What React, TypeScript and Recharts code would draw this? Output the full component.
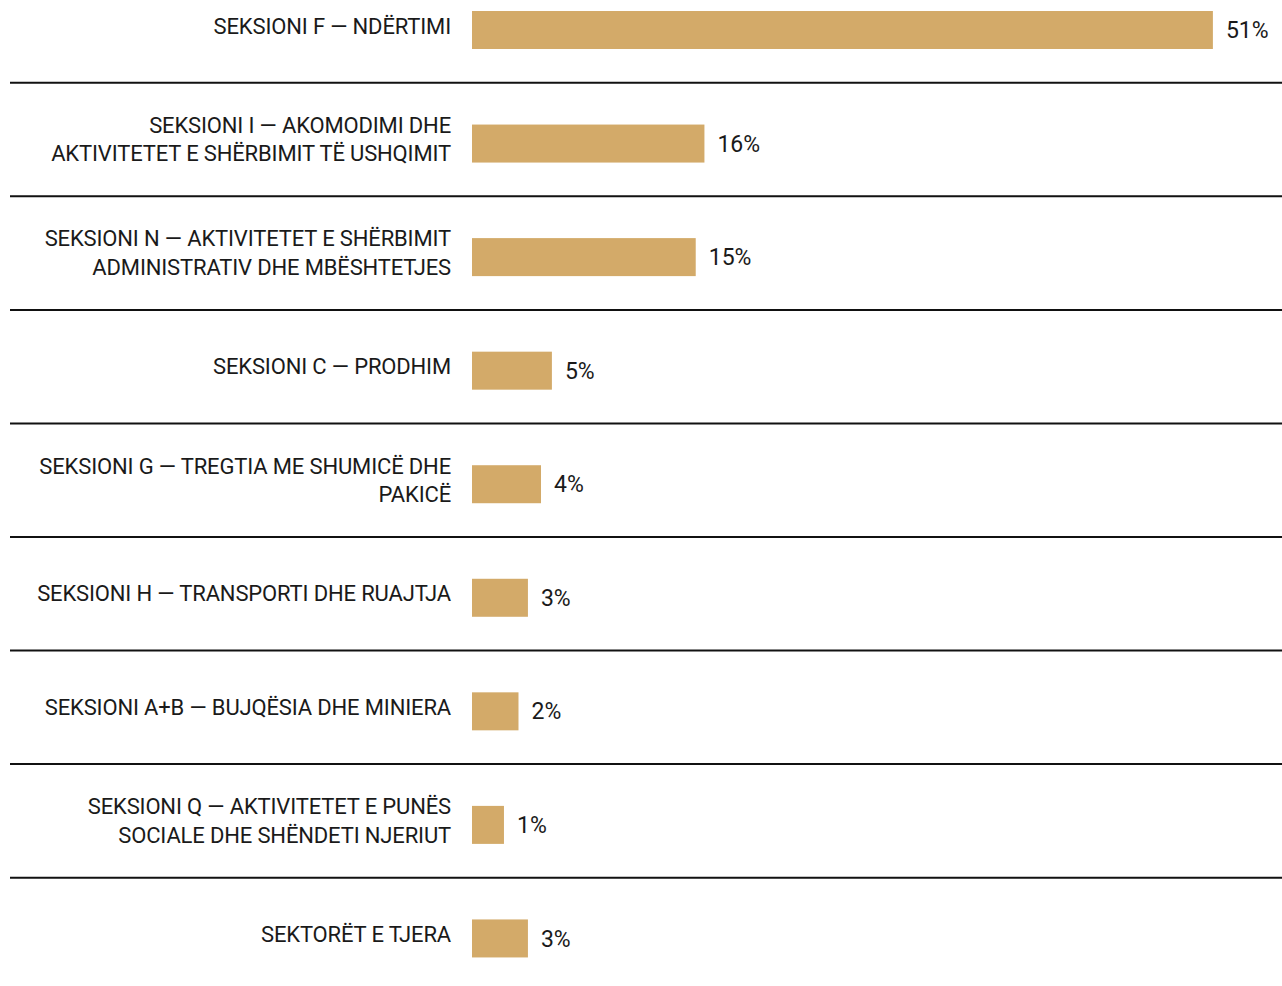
import { Bar, BarChart, LabelList, XAxis, YAxis } from "recharts";

const sectors = [
  "SEKSIONI F — NDËRTIMI",
  "SEKSIONI I — AKOMODIMI DHE\nAKTIVITETET E SHËRBIMIT TË USHQIMIT",
  "SEKSIONI N — AKTIVITETET E SHËRBIMIT\nADMINISTRATIV DHE MBËSHTETJES",
  "SEKSIONI C — PRODHIM",
  "SEKSIONI G — TREGTIA ME SHUMICË DHE\nPAKICË",
  "SEKSIONI H — TRANSPORTI DHE RUAJTJA",
  "SEKSIONI A+B — BUJQËSIA DHE MINIERA",
  "SEKSIONI Q — AKTIVITETET E PUNËS\nSOCIALE DHE SHËNDETI NJERIUT",
  "SEKTORËT E TJERA",
];
// bar lengths as drawn (the printed labels are rounded differently)
const shares = [51, 16, 15.4, 5.5, 4.75, 3.85, 3.2, 2.2, 3.85];
const shareLabels = ["51%", "16%", "15%", "5%", "4%", "3%", "2%", "1%", "3%"];

const data = sectors.map((sector, i) => ({
  sector,
  share: shares[i],
  label: shareLabels[i],
}));

const WIDTH = 1282;
const HEIGHT = 1022;
const AXIS_W = 472;
const BAND = HEIGHT / sectors.length;
const ROW_SHIFT = 4; // labels and rules sit a bit above the bar centre
const LINE_H = 28.5;
const RULE_LEFT = 10;
const FONT = "Roboto, 'Noto Sans', sans-serif";
const INK = "#1a1a1a";

function SectorTick({ x, y, payload }: any) {
  const lines = String(payload.value).split("\n");
  return (
    <text
      x={x}
      textAnchor="end"
      fill={INK}
      fontSize={22}
      fontFamily={FONT}
      letterSpacing={-0.15}
    >
      {lines.map((line, i) => (
        <tspan
          key={i}
          x={x}
          y={y - ROW_SHIFT + 7.8 + (i - (lines.length - 1) / 2) * LINE_H}
        >
          {line}
        </tspan>
      ))}
    </text>
  );
}

function RowBar(props: any) {
  const { x, y, width, height, index, fill } = props;
  const rule = y + height / 2 + BAND / 2 - ROW_SHIFT;
  return (
    <g>
      <rect x={x} y={y} width={width} height={height} fill={fill} />
      {index < sectors.length - 1 && (
        <line
          x1={RULE_LEFT}
          x2={WIDTH}
          y1={rule}
          y2={rule}
          stroke="#111"
          strokeWidth={2}
        />
      )}
    </g>
  );
}

export default function App() {
  return (
    <div style={{ position: "absolute", left: 0, top: -27 }}>
      <BarChart
        width={WIDTH}
        height={HEIGHT}
        data={data}
        layout="vertical"
        margin={{ top: 0, right: 11, left: 0, bottom: 0 }}
      >
        <XAxis type="number" domain={[0, 55]} hide />
        <YAxis
          type="category"
          dataKey="sector"
          width={AXIS_W}
          axisLine={false}
          tickLine={false}
          tickSize={0}
          tickMargin={21}
          interval={0}
          tick={<SectorTick />}
        />
        <Bar
          dataKey="share"
          fill="#D3AA69"
          barSize={38}
          shape={<RowBar />}
          isAnimationActive={false}
        >
          <LabelList
            dataKey="label"
            position="right"
            offset={13}
            fill={INK}
            fontSize={23}
            fontFamily={FONT}
          />
        </Bar>
      </BarChart>
    </div>
  );
}
